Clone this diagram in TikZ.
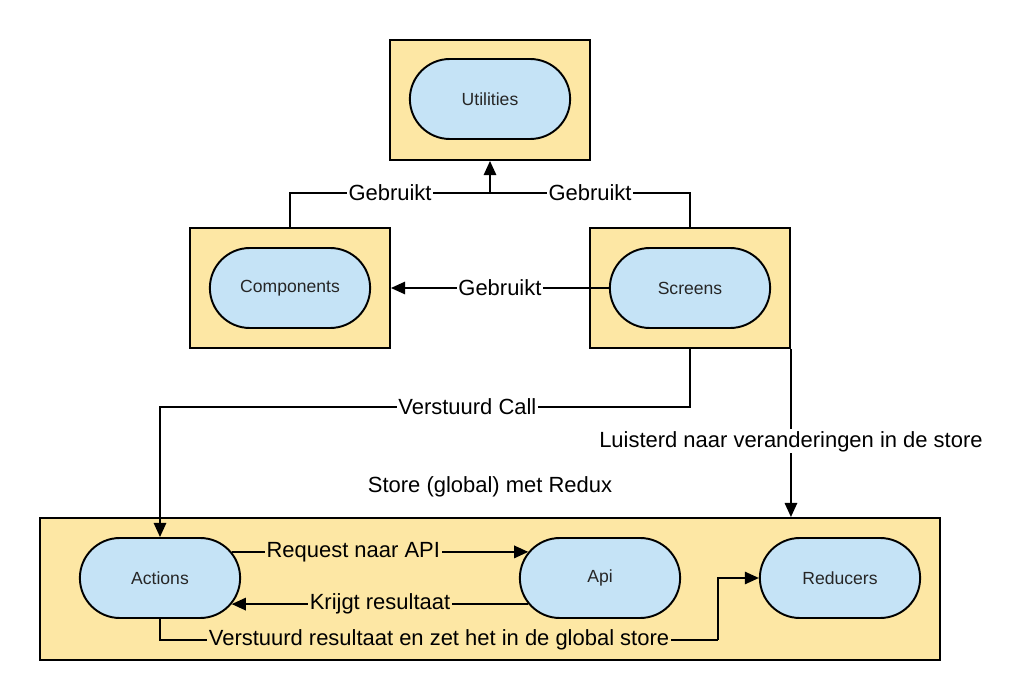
\documentclass[tikz,border=0pt]{standalone}
\usepackage{fontspec}
\setmainfont{Liberation Sans}
\usepackage{xcolor}
\usetikzlibrary{arrows.meta, positioning, calc, shapes.misc}

\definecolor{boxfill}{HTML}{FDE7A4}
\definecolor{pillfill}{HTML}{C5E3F6}

\begin{document}
\begin{tikzpicture}[
  x=0.02cm, y=-0.02cm,
  line width=1.1pt,
  arrow/.style={-{Triangle[length=8pt, width=7pt]}},
  outer_box/.style={draw, rectangle, fill=boxfill, minimum width=4cm, minimum height=2.4cm},
  pill_box/.style={draw, rounded rectangle, fill=pillfill, minimum width=3.44cm, minimum height=1.6cm, font=\fontsize{10}{12}\selectfont, text=black!85},
  lbl/.style={fill=white, inner sep=1pt, font=\fontsize{12.5}{14}\selectfont},
  lbl_in/.style={lbl, fill=boxfill}
]
  \useasboundingbox (0,0) rectangle (1025,699);

  % Top row
  \node (util_box) [outer_box] at (490,100) {};
  \node (util) [pill_box] at (490,99) {Utilities};

  \node (comp_box) [outer_box] at (290,288) {};
  \node (comp) [pill_box] at (290,288) {Components};
  \node (scr_box) [outer_box] at (690,288) {};
  \node (scr) [pill_box] at (690,288) {Screens};

  % Store
  \node (store_title) [font=\fontsize{12.5}{14}\selectfont] at (490,487) {Store (global) met Redux};
  \node (store_box) [outer_box, minimum width=18cm, minimum height=2.84cm] at (490,589) {};
  \node (actions) [pill_box] at (160,578) {Actions};
  \node (api) [pill_box] at (600,578) {Api};
  \node (reducers) [pill_box] at (840,578) {Reducers};

  \coordinate (join) at (490,193);
  \coordinate (call) at (690,407);
  \coordinate (bend) at (718,640);

  % Connections
  \draw (comp_box.north) |- (join) node[lbl, pos=0.75] {Gebruikt};
  \draw (scr_box.north) |- (join) node[lbl, pos=0.75] {Gebruikt};
  \draw[arrow] (join) -- (util_box.south);
  \draw[arrow] (scr.west) -- (comp_box.east) node[lbl, midway] {Gebruikt};
  \draw[arrow] (scr_box.south) -- (call) -| (actions.north) node[lbl, pos=0.21] {Verstuurd Call};
  \draw[arrow] (scr_box.south east) -- (scr_box.south east |- store_box.north) node[lbl, pos=0.55] {Luisterd naar veranderingen in de store};
  \draw[arrow] (actions.20) -- (api.160) node[lbl_in, pos=0.41] {Request naar API};
  \draw[arrow] (api.200) -- (actions.340) node[lbl_in, midway] {Krijgt resultaat};
  \draw (actions.south) |- (bend) node[lbl_in, pos=0.75] {Verstuurd resultaat en zet het in de global store};
  \draw[arrow] (bend) |- (reducers.west);

\end{tikzpicture}
\end{document}
